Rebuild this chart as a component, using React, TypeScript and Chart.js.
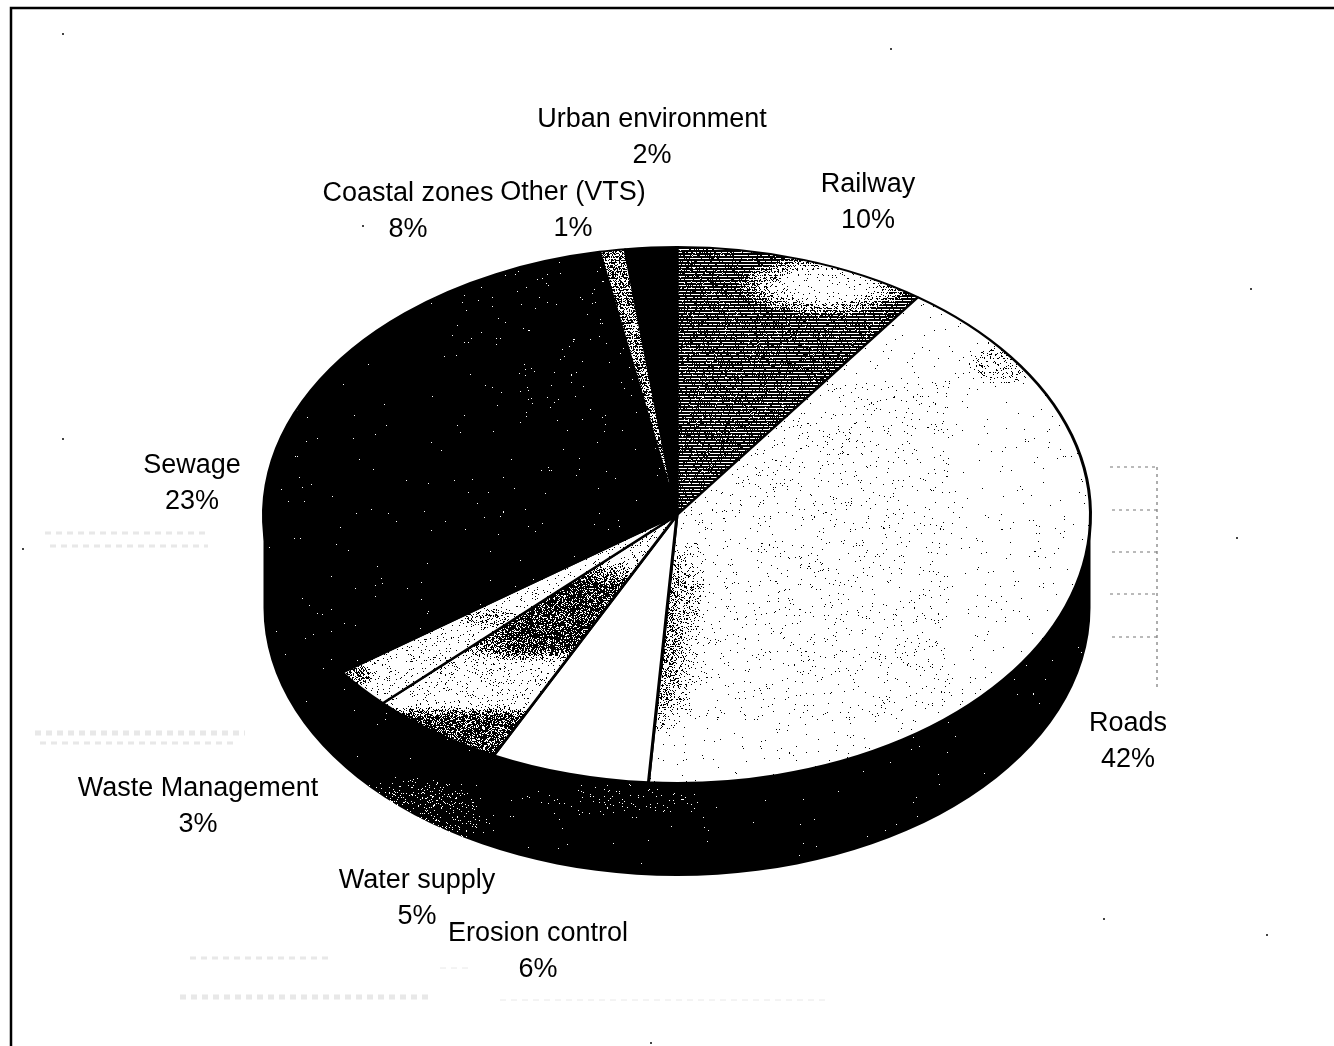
import React, { useEffect, useRef } from "react";
import { Chart, registerables } from "chart.js";

Chart.register(...registerables);

const categories = ["Railway", "Roads", "Erosion control", "Water supply", "Waste Management", "Sewage", "Coastal zones", "Other (VTS)", "Urban environment"];
const sliceValues = [9.9, 41.2, 6.2, 5.3, 2.4, 23.6, 8.4, 1.0, 2.0];
const percentLabels = ["10%", "42%", "6%", "5%", "3%", "23%", "8%", "1%", "2%"];

const W = 1334;
const H = 1046;
const SQUASH = 0.648;
const PIE_Y = 515;
const DEPTH = 93;
const PAD = { left: 262, right: 242, top: 108, bottom: 108 };
const PLOT_MID_Y = PAD.top + (H - PAD.top - PAD.bottom) / 2;

const labelAnchors: [number, number][] = [
  [868, 185], [1128, 724], [538, 934], [417, 881], [198, 789], [192, 466], [408, 194], [573, 193], [652, 120],
];

function hash(x: number, y: number) {
  let h = (Math.imul(x, 374761393) + Math.imul(y, 668265263)) | 0;
  h = Math.imul(h ^ (h >>> 13), 1274126177);
  return ((h ^ (h >>> 16)) >>> 0) / 4294967296;
}
const clamp = (v: number, a: number, b: number) => Math.max(a, Math.min(b, v));
const blob = (x: number, y: number, cx: number, cy: number, rx: number, ry: number) => {
  const e = ((x - cx) / rx) ** 2 + ((y - cy) / ry) ** 2;
  return clamp(1.3 - e, 0, 1);
};

const shades: ((x: number, y: number) => number)[] = [
  (x, y) => {
    const d = 0.85 * (1 - 0.95 * blob(x, y, 825, 285, 78, 27));
    return d * (y % 3 === 0 ? 0.3 : 1.15);
  },
  (x, y) => {
    const lx = 678 - ((y - 517) * 30) / 265;
    const t = x - lx;
    let d = 0.005;
    if (x > 680 && x < 950 && y > 380 && y < 720) d += 0.012;
    const taper = clamp((y - 540) / 50, 0, 1) * clamp((735 - y) / 40, 0, 1);
    d += 0.42 * taper * clamp(1 - t / 36, 0, 1);
    d += 0.13 * blob(x, y, 1000, 365, 32, 20);
    return d;
  },
  () => 0,
  (x, y) => {
    if (y < 680) {
      const band = 0.72 * clamp((y - 560) / 18, 0, 1) * clamp((662 - y) / 14, 0, 1);
      return 0.06 + band * blob(x, y, 565, 620, 105, 75);
    }
    return 0.05 + 0.68 * clamp((y - 705) / 12, 0, 1);
  },
  (x, y) => 0.05 + 0.4 * blob(x, y, 358, 675, 15, 10) + 0.16 * blob(x, y, 490, 617, 30, 10),
  () => 0.9985,
  (x, y) => {
    const dist = Math.abs((y - 517) * 257 - (x - 677) * 192) / 320.8;
    if (dist < 1.2 && x < 640) return 0.82;
    return 0.996;
  },
  (x, y) => 0.5 * (y % 3 === 0 ? 0.5 : 1.2),
  () => 1,
];
const wallShade = (x: number, y: number) => 0.999 - 0.09 * blob(x, y, 415, 815, 70, 35) - 0.025 * blob(x, y, 620, 800, 90, 16);

function textureCanvas(shade: (x: number, y: number) => number) {
  const c = document.createElement("canvas");
  c.width = W;
  c.height = H;
  const g = c.getContext("2d")!;
  const img = g.createImageData(W, H);
  for (let y = 0; y < H; y++) {
    for (let x = 0; x < W; x++) {
      const i = (y * W + x) * 4;
      const v = hash(x, y) < shade(x, y) ? 0 : 255;
      img.data[i] = v;
      img.data[i + 1] = v;
      img.data[i + 2] = v;
      img.data[i + 3] = 255;
    }
  }
  g.putImageData(img, 0, 0);
  return c;
}

function slicePattern(ctx: CanvasRenderingContext2D, shade: (x: number, y: number) => number) {
  const p = ctx.createPattern(textureCanvas(shade), "no-repeat")!;
  p.setTransform(new DOMMatrix().translate(0, PLOT_MID_Y).scale(1, 1 / SQUASH).translate(0, -PIE_Y));
  return p;
}

const ghostStrokes: [number, number, number, number, number][] = [
  [45, 533, 208, 533, 3], [50, 546, 208, 546, 3], [35, 733, 245, 733, 5], [40, 743, 235, 743, 3],
  [190, 958, 330, 958, 3], [180, 997, 430, 997, 5], [500, 1000, 830, 1000, 1], [440, 968, 470, 968, 1],
];
const scanRules: [number, number, number, number][] = [
  [1110, 467, 1157, 467], [1112, 510, 1157, 510], [1112, 552, 1157, 552], [1110, 594, 1157, 594], [1112, 637, 1157, 637], [1157, 467, 1157, 690],
];
const specks: [number, number][] = [[890, 48], [62, 33], [362, 225], [1250, 288], [62, 438], [1236, 537], [22, 548], [1103, 918], [1266, 934], [650, 1042]];

const pie3d = {
  id: "pie3d",
  beforeDraw(chart: Chart) {
    const { ctx } = chart;
    ctx.save();
    ctx.fillStyle = "#fff";
    ctx.fillRect(0, 0, W, H);
    ctx.strokeStyle = "#000";
    ctx.lineWidth = 2.5;
    ctx.beginPath();
    ctx.moveTo(W, 8);
    ctx.lineTo(11, 8);
    ctx.lineTo(11, H);
    ctx.stroke();
    ctx.restore();
  },
  beforeDatasetsDraw(chart: Chart) {
    const { ctx } = chart;
    const arc: any = chart.getDatasetMeta(0).data[0];
    const { x, outerRadius } = arc.getProps(["x", "outerRadius"], true);
    const ry = outerRadius * SQUASH;
    ctx.save();
    ctx.fillStyle = ctx.createPattern(textureCanvas(wallShade), "no-repeat")!;
    ctx.beginPath();
    ctx.ellipse(x, PIE_Y, outerRadius, ry, 0, Math.PI, 0, true);
    ctx.lineTo(x + outerRadius, PIE_Y + DEPTH);
    ctx.ellipse(x, PIE_Y + DEPTH, outerRadius, ry, 0, 0, Math.PI, false);
    ctx.closePath();
    ctx.fill();
    ctx.restore();
    ctx.save();
    ctx.translate(0, PIE_Y);
    ctx.scale(1, SQUASH);
    ctx.translate(0, -PLOT_MID_Y);
  },
  afterDatasetsDraw(chart: Chart) {
    const { ctx } = chart;
    ctx.restore();
    ctx.save();
    ctx.strokeStyle = "#777";
    ctx.lineWidth = 1.2;
    ctx.setLineDash([3, 4]);
    scanRules.forEach(([a, b, c, d]) => {
      ctx.beginPath();
      ctx.moveTo(a, b);
      ctx.lineTo(c, d);
      ctx.stroke();
    });
    ctx.strokeStyle = "#e8e8e8";
    ghostStrokes.forEach(([a, b, c, d, w]) => {
      ctx.lineWidth = w;
      ctx.setLineDash([6, 5]);
      ctx.beginPath();
      ctx.moveTo(a, b);
      ctx.lineTo(c, d);
      ctx.stroke();
    });
    ctx.setLineDash([]);
    ctx.fillStyle = "#444";
    specks.forEach(([a, b]) => ctx.fillRect(a, b, 2, 2));
    ctx.fillStyle = "#000";
    ctx.font = '27px "Liberation Sans", Arial, sans-serif';
    ctx.textAlign = "center";
    ctx.textBaseline = "middle";
    categories.forEach((name, i) => {
      const [ax, ay] = labelAnchors[i];
      ctx.fillText(name, ax, ay);
      ctx.fillText(percentLabels[i], ax, ay + 36);
    });
    ctx.restore();
  },
};

export default function App() {
  const ref = useRef<HTMLCanvasElement>(null);
  useEffect(() => {
    const canvas = ref.current!;
    const ctx = canvas.getContext("2d")!;
    document.body.style.margin = "0";
    const chart = new Chart(canvas, {
      type: "pie",
      data: {
        labels: categories,
        datasets: [
          {
            data: sliceValues,
            backgroundColor: shades.map((s) => slicePattern(ctx, s)),
            borderColor: "#000",
            borderWidth: 3,
            clip: false,
          } as any,
        ],
      },
      options: {
        responsive: false,
        animation: false,
        devicePixelRatio: 1,
        layout: { padding: PAD },
        plugins: { legend: { display: false }, tooltip: { enabled: false } },
      },
      plugins: [pie3d],
    });
    return () => chart.destroy();
  }, []);
  return (
    <div style={{ position: "absolute", left: 0, top: 0, width: W, height: H }}>
      <canvas ref={ref} width={W} height={H} style={{ display: "block" }} />
    </div>
  );
}
